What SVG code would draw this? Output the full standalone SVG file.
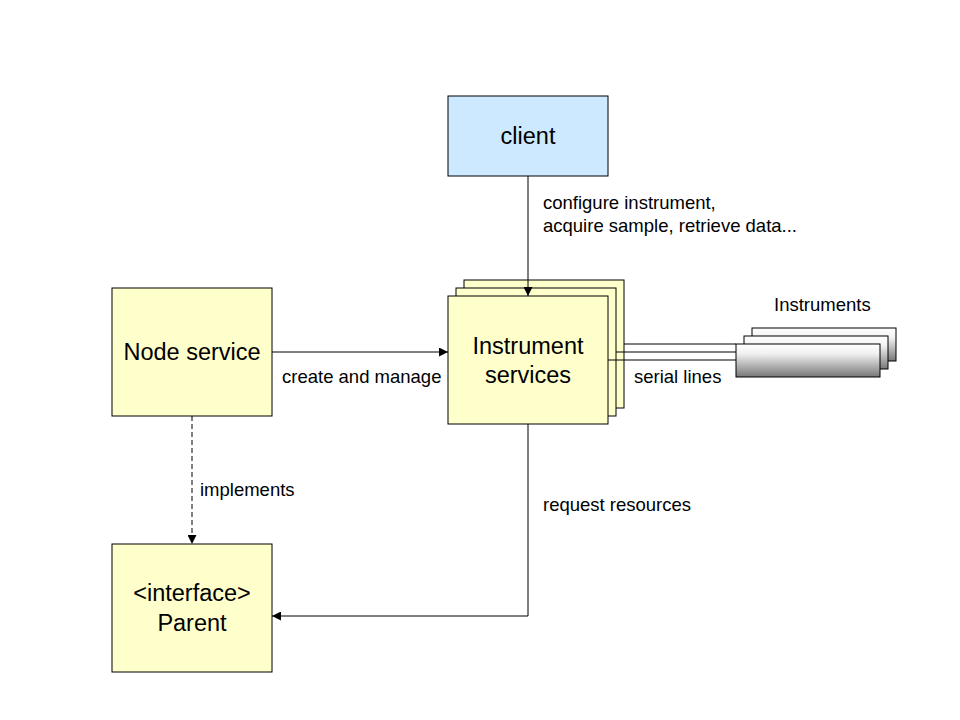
<svg xmlns="http://www.w3.org/2000/svg" width="960" height="720" viewBox="0 0 960 720">
<defs>
<style>
.box{fill:#ffffcc;stroke:#000;stroke-width:1}
.big{font-family:"Liberation Sans",Arial,sans-serif;font-size:23.5px;text-anchor:middle;fill:#000}
.lbl{font-family:"Liberation Sans",Arial,sans-serif;font-size:18.5px;fill:#000}
.con{fill:none;stroke:#000;stroke-width:1}
.inst{fill:url(#g);stroke:#000;stroke-width:1}
</style>
<linearGradient id="g" x1="0" y1="0" x2="0" y2="1">
<stop offset="0" stop-color="#ffffff"/>
<stop offset="0.3" stop-color="#f0f0f0"/>
<stop offset="1" stop-color="#777777"/>
</linearGradient>
<marker id="arr" viewBox="0 0 10 10" refX="10" refY="5" markerWidth="9" markerHeight="9" markerUnits="userSpaceOnUse" orient="auto">
<path d="M0,0 L10,5 L0,10 z" fill="#000"/>
</marker>
</defs>
<rect width="960" height="720" fill="#fff"/>
<g id="client">
<rect x="448" y="96" width="160" height="80" fill="#cce9ff" stroke="#000"/>
<text class="big" x="528" y="144">client</text>
</g>
<g id="node-service">
<rect class="box" x="112" y="288" width="160" height="128"/>
<text class="big" x="192" y="360">Node service</text>
</g>
<g id="instrument-services">
<rect class="box" x="464" y="280" width="160" height="128"/>
<rect class="box" x="456" y="288" width="160" height="128"/>
<rect class="box" x="448" y="296" width="160" height="128"/>
<text class="big" x="528" y="354">Instrument</text>
<text class="big" x="528" y="383">services</text>
</g>
<g id="parent">
<rect class="box" x="112" y="544" width="160" height="128"/>
<text class="big" x="192" y="601">&lt;interface&gt;</text>
<text class="big" x="192" y="631">Parent</text>
</g>
<g id="instruments">
<rect class="inst" x="752" y="328" width="144" height="33"/>
<rect class="inst" x="744" y="336" width="144" height="33"/>
<rect class="inst" x="736" y="344" width="144" height="33"/>
<text class="lbl" x="774" y="311">Instruments</text>
</g>
<g id="connectors">
<line class="con" x1="528" y1="176" x2="528" y2="296" marker-end="url(#arr)"/>
<line class="con" x1="272" y1="352" x2="448" y2="352" marker-end="url(#arr)"/>
<line class="con" x1="192" y1="416" x2="192" y2="544" stroke-dasharray="5,3" marker-end="url(#arr)"/>
<polyline class="con" points="528,424 528,616 272,616" marker-end="url(#arr)"/>
<line class="con" x1="624" y1="344" x2="736" y2="344"/>
<line class="con" x1="616" y1="352" x2="736" y2="352"/>
<line class="con" x1="608" y1="360" x2="736" y2="360"/>
<text class="lbl" x="543" y="209">configure instrument,</text>
<text class="lbl" x="543" y="232">acquire sample, retrieve data...</text>
<text class="lbl" x="282" y="383">create and manage</text>
<text class="lbl" x="634" y="383">serial lines</text>
<text class="lbl" x="200" y="496">implements</text>
<text class="lbl" x="543" y="511">request resources</text>
</g>
</svg>
